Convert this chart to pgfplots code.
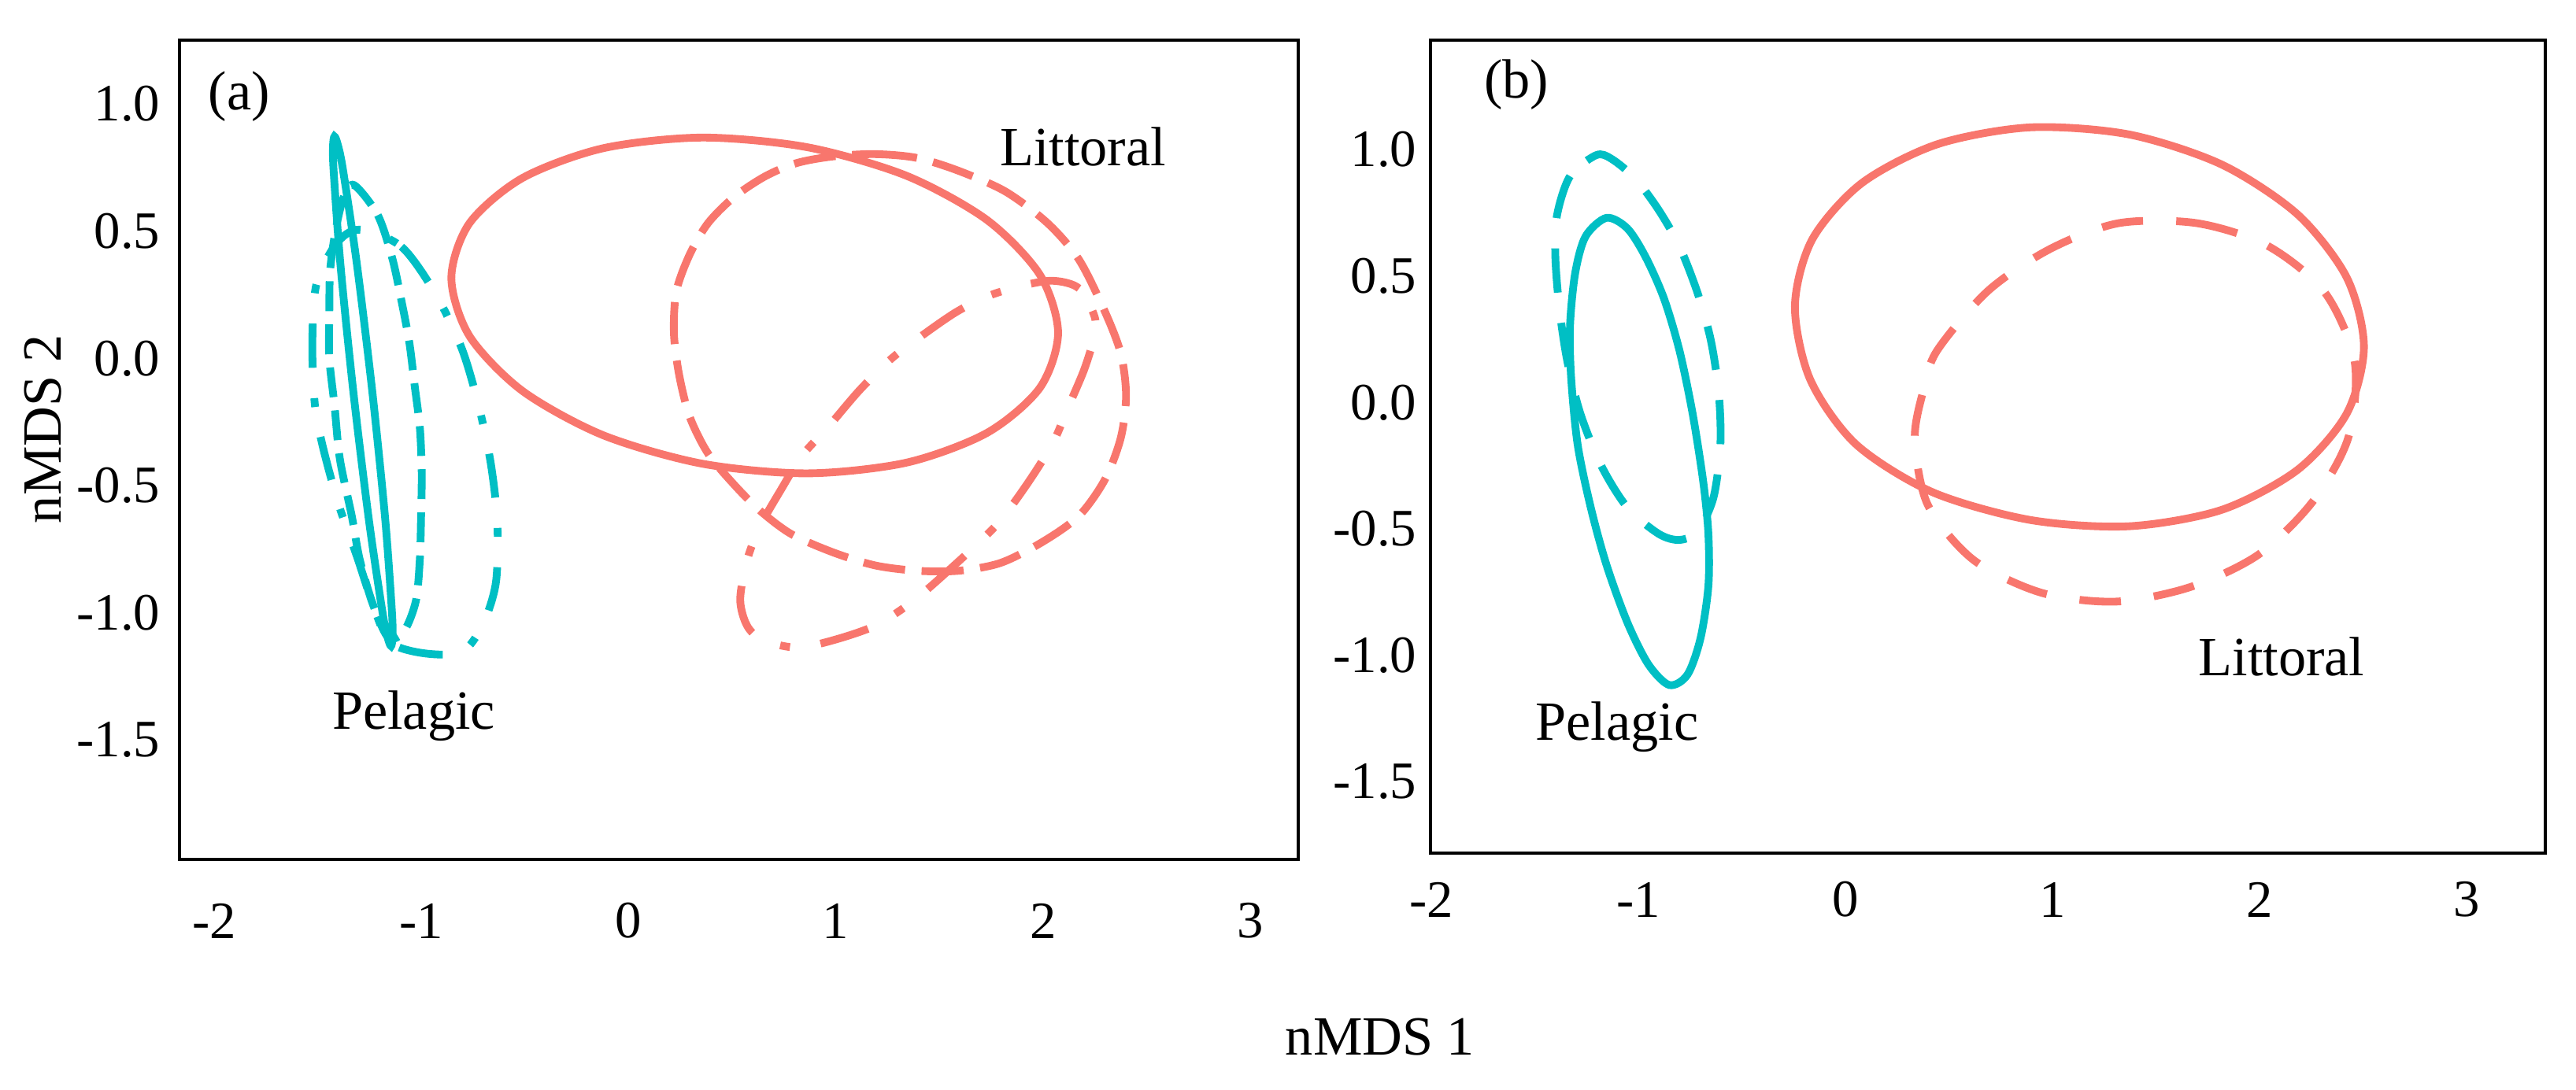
\documentclass[border=0pt]{standalone}
\usepackage{fontspec}
\setmainfont{Liberation Serif}
\usepackage{pgfplots}
\pgfplotsset{compat=1.18}

\definecolor{littoral}{HTML}{F8766D}
\definecolor{pelagic}{HTML}{00BFC4}

\pgfplotsset{
  nmds/.style={
    scale only axis,
    anchor=north west,
    axis line style={line width=0.5pt},
    major tick length=0pt,
    xtick={-2,-1,0,1,2,3},
    xticklabels={-2,-1,0,1,2,3},
    ytick={-1.5,-1,-0.5,0,0.5,1},
    yticklabels={-1.5,-1.0,-0.5,0.0,0.5,1.0},
    tick label style={font=\fontsize{9.5}{11}\selectfont},
    xticklabel style={anchor=center},
  },
  ell/.style={smooth cycle, no markers, line width=1.4pt},
}

\begin{document}
\begin{tikzpicture}
\path[use as bounding box] (0,0) rectangle (163.6mm,-69.2mm);

% ---------------- (a) ----------------
\begin{axis}[nmds,
  at={(11.4mm,-2.55mm)}, width=71.05mm, height=52.05mm,
  xmin=-2.167, xmax=3.232, ymin=-1.970, ymax=1.251,
  xticklabel style={yshift=-3.9mm}]
% Littoral, solid
\addplot[ell, littoral] coordinates {
 (2.073,0.100) (1.985,0.329) (1.730,0.544) (1.341,0.718) (0.863,0.830)
 (0.355,0.868) (-0.123,0.826) (-0.512,0.709) (-0.767,0.532) (-0.855,0.316)
 (-0.767,0.087) (-0.512,-0.128) (-0.123,-0.302) (0.355,-0.414) (0.863,-0.452)
 (1.341,-0.410) (1.730,-0.293) (1.985,-0.116)};
% Littoral, dashed
\addplot[ell, littoral, dash pattern=on 7.6pt off 3pt] coordinates {
 (0.988,0.794) (1.190,0.803) (1.392,0.788) (1.594,0.737) (1.821,0.655)
 (2.023,0.531) (2.174,0.388) (2.300,0.182) (2.376,0.018) (2.401,-0.146)
 (2.376,-0.311) (2.300,-0.475) (2.174,-0.619) (1.997,-0.722) (1.796,-0.804)
 (1.594,-0.835) (1.392,-0.835) (1.190,-0.814) (0.988,-0.763) (0.786,-0.691)
 (0.635,-0.599) (0.509,-0.496) (0.383,-0.373) (0.295,-0.229) (0.244,-0.064)
 (0.219,0.100) (0.231,0.264) (0.295,0.408) (0.383,0.531) (0.509,0.634)
 (0.660,0.716) (0.812,0.768)};
% Littoral, dash-dot
\addplot[ell, littoral, dash pattern=on 9pt off 5.6pt on 1.8pt off 5.6pt] coordinates {
 (2.250,0.162) (2.174,0.275) (2.048,0.305) (1.896,0.285) (1.732,0.244)
 (1.581,0.182) (1.417,0.090) (1.266,-0.003) (1.114,-0.126) (0.963,-0.270)
 (0.837,-0.383) (0.736,-0.516) (0.635,-0.660) (0.572,-0.794) (0.539,-0.948)
 (0.572,-1.051) (0.648,-1.108) (0.812,-1.137) (0.988,-1.108) (1.190,-1.051)
 (1.367,-0.958) (1.543,-0.835) (1.770,-0.660) (1.922,-0.496) (2.048,-0.332)
 (2.124,-0.188) (2.199,-0.044) (2.245,0.079)};
% Pelagic, dash-dot
\addplot[ell, pelagic, dash pattern=on 8pt off 5.5pt on 1.6pt off 5.5pt] coordinates {
 (-1.298,0.506) (-1.096,0.439) (-0.931,0.253) (-0.804,0.037) (-0.722,-0.190)
 (-0.665,-0.412) (-0.633,-0.644) (-0.640,-0.881) (-0.703,-1.046) (-0.804,-1.154)
 (-0.982,-1.160) (-1.146,-1.119) (-1.222,-0.995) (-1.311,-0.778) (-1.400,-0.572)
 (-1.476,-0.345) (-1.514,-0.180) (-1.526,0.057) (-1.507,0.289) (-1.412,0.449)};
% Pelagic, dashed
\addplot[ell, pelagic, dash pattern=on 5.4pt off 2.4pt] coordinates {
 (-1.324,0.681) (-1.210,0.563) (-1.140,0.393) (-1.096,0.227) (-1.058,0.063)
 (-1.032,-0.108) (-1.007,-0.273) (-0.998,-0.448) (-1.001,-0.613) (-1.007,-0.788)
 (-1.026,-0.953) (-1.083,-1.072) (-1.159,-1.098) (-1.235,-0.964) (-1.298,-0.788)
 (-1.336,-0.618) (-1.393,-0.396) (-1.419,-0.185) (-1.444,0.001) (-1.444,0.171)
 (-1.440,0.346) (-1.412,0.511) (-1.374,0.635)};
% Pelagic, solid
\addplot[ell, pelagic] coordinates {
 (-1.419,0.872) (-1.403,0.840) (-1.378,0.741) (-1.312,0.377) (-1.2375,-0.1235)
 (-1.175,-0.625) (-1.142,-0.994) (-1.139,-1.095) (-1.146,-1.131) (-1.162,-1.099)
 (-1.187,-1.000) (-1.253,-0.635) (-1.3275,-0.1355) (-1.390,0.366) (-1.423,0.735)
 (-1.426,0.836)};
\end{axis}

% ---------------- (b) ----------------
\begin{axis}[nmds,
  at={(90.85mm,-2.55mm)}, width=70.8mm, height=51.65mm,
  xmin=-2.004, xmax=3.380, ymin=-1.783, ymax=1.433,
  xticklabel style={yshift=-2.95mm},
  yticklabel style={xshift=0.35mm}]
% Littoral, solid
\addplot[ell, littoral] coordinates {
 (2.504,0.220) (2.421,0.494) (2.183,0.744) (1.817,0.941) (1.369,1.060)
 (0.892,1.088) (0.443,1.021) (0.078,0.867) (-0.161,0.644) (-0.244,0.380)
 (-0.170,0.090) (0.050,-0.165) (0.420,-0.355) (0.892,-0.465) (1.369,-0.490)
 (1.817,-0.425) (2.183,-0.267) (2.421,-0.044)};
% Littoral, dashed
\addplot[ell, littoral, dash pattern=on 7.5pt off 6pt] coordinates {
 (1.319,0.709) (1.697,0.709) (2.038,0.620) (2.315,0.435) (2.459,0.162)
 (2.429,-0.138) (2.257,-0.392) (1.995,-0.602) (1.667,-0.730) (1.306,-0.788)
 (0.946,-0.753) (0.618,-0.623) (0.398,-0.406) (0.335,-0.148) (0.373,0.038)
 (0.441,0.203) (0.688,0.441) (0.986,0.606)};
% Pelagic, dashed
\addplot[ell, pelagic, dash pattern=on 8pt off 5.5pt] coordinates {
 (-1.204,0.978) (-1.330,0.895) (-1.393,0.740) (-1.401,0.575) (-1.381,0.368)
 (-1.343,0.162) (-1.280,-0.045) (-1.179,-0.251) (-1.053,-0.416) (-0.902,-0.520)
 (-0.801,-0.544) (-0.712,-0.509) (-0.637,-0.375) (-0.604,-0.168) (-0.612,0.038)
 (-0.650,0.245) (-0.713,0.430) (-0.801,0.616) (-0.902,0.761) (-1.015,0.885)
 (-1.129,0.963)};
% Pelagic, solid
\addplot[ell, pelagic] coordinates {
 (-1.154,0.730) (-1.255,0.657) (-1.305,0.513) (-1.330,0.306) (-1.325,0.100)
 (-1.293,-0.169) (-1.230,-0.416) (-1.154,-0.643) (-1.053,-0.871) (-0.952,-1.036)
 (-0.851,-1.118) (-0.763,-1.077) (-0.700,-0.933) (-0.662,-0.726) (-0.662,-0.520)
 (-0.687,-0.313) (-0.738,-0.045) (-0.801,0.203) (-0.876,0.410) (-0.965,0.575)
 (-1.053,0.688)};
\end{axis}

% panel tags, group names and axis titles
\begin{scope}[every node/.style={font=\fontsize{10}{12}\selectfont, inner sep=0pt}]
\node[anchor=base] at (15.2mm,-6.95mm) {(a)};
\node[anchor=base] at (26.28mm,-46.3mm) {Pelagic};
\node[anchor=base] at (68.78mm,-10.52mm) {Littoral};
\node[anchor=base] at (96.3mm,-6.2mm) {(b)};
\node[anchor=base] at (102.69mm,-47.0mm) {Pelagic};
\node[anchor=base] at (144.9mm,-42.93mm) {Littoral};
\node[anchor=base] at (87.65mm,-67.0mm) {nMDS 1};
\node[anchor=base, rotate=90] at (3.9mm,-27.25mm) {nMDS 2};
\end{scope}
\end{tikzpicture}
\end{document}
